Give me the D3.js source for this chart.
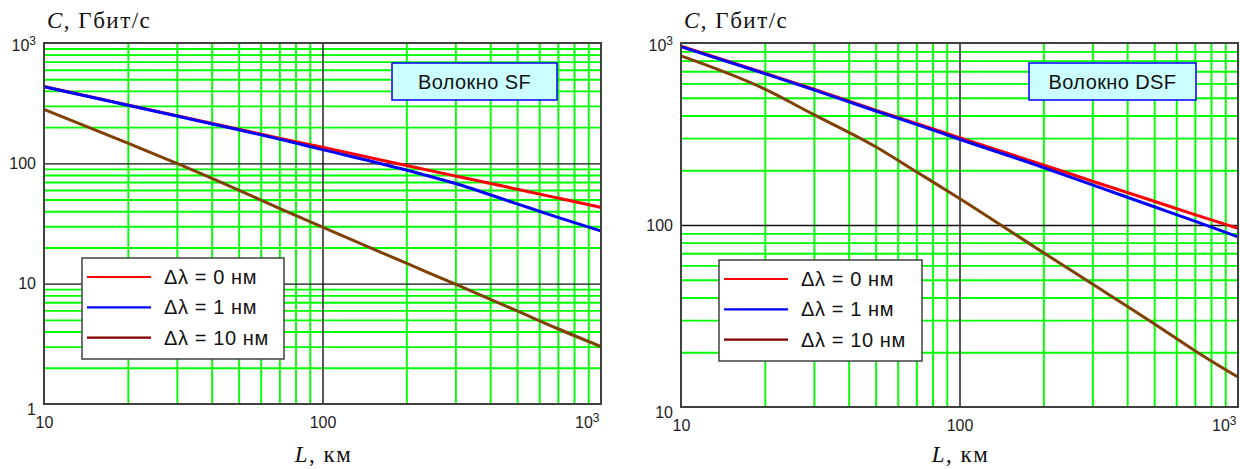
<!DOCTYPE html>
<html>
<head>
<meta charset="utf-8">
<script src="https://cdn.jsdelivr.net/npm/d3@7"></script>
<style>
  html, body { margin: 0; padding: 0; background: #fff; }
  svg { display: block; }
  .tick-label text { font-family: "Liberation Sans", Arial, sans-serif; font-size: 16px; fill: #222; }
</style>
</head>
<body>
<svg id="chart" width="1240" height="469"></svg>
<script>
// ---------------- data ----------------
const distances = [10, 20, 30, 50, 70, 100, 200, 300, 500, 700, 1000];   // L, км

// Fibre SF
const sfDl0  = [435, 306, 249, 192, 162, 136, 96, 78.5, 61, 51.5, 43];
const sfDl1  = [433, 304, 247, 190, 159, 130, 88, 68, 46, 35.6, 27.4];
const sfDl10 = [281, 147, 100, 60, 42.3, 29.5, 14.8, 9.9, 5.93, 4.22, 3.0];

// Fibre DSF
const dsfDl0  = [960, 683, 557, 428, 362, 302, 214, 174, 135, 114, 95.8];
const dsfDl1  = [955, 679, 553, 423, 357, 296, 207, 166, 126, 105, 86];
const dsfDl10 = [849, 558, 404, 269, 196, 140, 70.5, 47.4, 28.7, 20.4, 14.6];

const legendLabels = ["\u0394\u03bb = 0 нм", "\u0394\u03bb = 1 нм", "\u0394\u03bb = 10 нм"];
const fibreNames = ["Волокно SF", "Волокно DSF"];
const yTitle = ["C", ", Гбит/с"];
const xTitle = ["L", ", км"];

const xTickValues = [10, 100, 1000];
const xMinor = [20, 30, 40, 50, 60, 70, 80, 90, 200, 300, 400, 500, 600, 700, 800, 900];
const sfYTicks = [1, 10, 100, 1000];
const sfYMinor = [2, 3, 4, 5, 6, 7, 8, 9, 20, 30, 40, 50, 60, 70, 80, 90, 200, 300, 400, 500, 600, 700, 800, 900];
const dsfYTicks = [10, 100, 1000];
const dsfYMinor = [20, 30, 40, 50, 60, 70, 80, 90, 200, 300, 400, 500, 600, 700, 800, 900];

// ---------------- styles ----------------
const curveColors = ["#ff0000", "#0000ff", "#804000"];
const legendColors = ["#ff0000", "#0000ff", "#800000"];

const svg = d3.select("#chart");

function drawChart(cfg) {
  const g = svg.append("g");
  const x = d3.scaleLog().domain([10, 1000]).range([cfg.left, cfg.right]);
  const y = d3.scaleLog().domain(cfg.yDomain).range([cfg.bottom, cfg.top]);
  const w = cfg.right - cfg.left, h = cfg.bottom - cfg.top;

  // minor green grid
  const gx = g.append("g").attr("transform", `translate(0,${cfg.bottom})`)
    .call(d3.axisBottom(x).tickValues(xMinor).tickSize(-h).tickFormat(""));
  gx.select(".domain").remove();
  gx.selectAll("line").attr("stroke", "#00ff00").attr("stroke-width", 1.9);

  const gy = g.append("g").attr("transform", `translate(${cfg.left},0)`)
    .call(d3.axisLeft(y).tickValues(cfg.yMinor).tickSize(-w).tickFormat(""));
  gy.select(".domain").remove();
  gy.selectAll("line").attr("stroke", "#00ff00").attr("stroke-width", 1.9);

  // major black grid
  const gxM = g.append("g").attr("transform", `translate(0,${cfg.bottom})`)
    .call(d3.axisBottom(x).tickValues([100]).tickSize(-h).tickFormat(""));
  gxM.select(".domain").remove();
  gxM.selectAll("line").attr("stroke", "#111").attr("stroke-width", 1.4);

  const gyM = g.append("g").attr("transform", `translate(${cfg.left},0)`)
    .call(d3.axisLeft(y).tickValues(cfg.yMajor).tickSize(-w).tickFormat(""));
  gyM.select(".domain").remove();
  gyM.selectAll("line").attr("stroke", "#111").attr("stroke-width", 1.4);

  // curves
  const line = d3.line().x((d, i) => x(distances[i])).y(d => y(d)).curve(d3.curveMonotoneX);
  cfg.series.forEach((s, k) => {
    g.append("path").datum(s)
      .attr("d", line)
      .attr("fill", "none")
      .attr("stroke", curveColors[k])
      .attr("stroke-width", 3)
      .attr("stroke-linejoin", "round");
  });

  // frame
  g.append("rect")
    .attr("x", cfg.left).attr("y", cfg.top)
    .attr("width", w).attr("height", h)
    .attr("fill", "none").attr("stroke", "#404040").attr("stroke-width", 2);

  // tick labels
  const fmt = d => d === 1000 ? "" : String(d);
  const ax = g.append("g").attr("class", "tick-label")
    .attr("transform", `translate(0,${cfg.bottom})`)
    .call(d3.axisBottom(x).tickValues(xTickValues).tickSize(0).tickPadding(13).tickFormat(fmt));
  ax.select(".domain").remove();
  ax.selectAll(".tick").filter(d => d === 1000).select("text")
    .attr("text-anchor", "end").attr("x", -2)
    .call(t => {
      t.append("tspan").text("10");
      t.append("tspan").text("3").attr("dy", "-0.5em").attr("font-size", "12px");
    });

  const ay = g.append("g").attr("class", "tick-label")
    .attr("transform", `translate(${cfg.left},0)`)
    .call(d3.axisLeft(y).tickValues(cfg.yTicks).tickSize(0).tickPadding(8).tickFormat(fmt));
  ay.select(".domain").remove();
  ay.selectAll(".tick").filter(d => d === 1000).select("text")
    .attr("dy", "0.45em")
    .call(t => {
      t.append("tspan").text("10");
      t.append("tspan").text("3").attr("dy", "-0.5em").attr("font-size", "12px");
    });
  ay.selectAll(".tick").filter(d => d === cfg.yDomain[0]).select("text").attr("dy", "0.68em");

  // axis titles
  const yt = g.append("text")
    .attr("x", cfg.left + 3).attr("y", 28)
    .attr("font-family", "'Liberation Serif', 'Times New Roman', serif")
    .attr("font-size", 23).attr("letter-spacing", 1.5).attr("fill", "#111");
  yt.append("tspan").attr("font-style", "italic").text(yTitle[0]);
  yt.append("tspan").text(yTitle[1]);

  const xt = g.append("text")
    .attr("x", x(100) + 1).attr("y", 462).attr("text-anchor", "middle")
    .attr("font-family", "'Liberation Serif', 'Times New Roman', serif")
    .attr("font-size", 23).attr("letter-spacing", 1.5).attr("fill", "#111");
  xt.append("tspan").attr("font-style", "italic").text(xTitle[0]);
  xt.append("tspan").text(xTitle[1]);

  // fibre label box
  const b = cfg.box;
  g.append("rect").attr("x", b.x).attr("y", b.y).attr("width", b.w).attr("height", b.h)
    .attr("fill", "#ccffff").attr("stroke", "#0000ff").attr("stroke-width", 1.5);
  g.append("text").attr("x", b.x + b.w / 2).attr("y", b.y + b.h / 2 + 7)
    .attr("text-anchor", "middle")
    .attr("font-family", "'Liberation Sans', Arial, sans-serif")
    .attr("font-size", 20).attr("letter-spacing", 0.4).attr("fill", "#111")
    .text(cfg.name);

  // legend
  const L = cfg.legend;
  g.append("rect").attr("x", L.x).attr("y", L.y).attr("width", L.w).attr("height", L.h)
    .attr("fill", "#fff").attr("stroke", "#404040").attr("stroke-width", 1.5);
  legendLabels.forEach((lab, i) => {
    const yy = L.y + 19 + i * 30.3;
    g.append("line").attr("x1", L.x + 5).attr("x2", L.x + 69)
      .attr("y1", yy).attr("y2", yy)
      .attr("stroke", legendColors[i]).attr("stroke-width", 2.2);
    g.append("text").attr("x", L.x + 82).attr("y", yy + 7)
      .attr("font-family", "'Liberation Sans', Arial, sans-serif")
      .attr("font-size", 20).attr("letter-spacing", 0.6).attr("fill", "#111")
      .text(lab);
  });
}

drawChart({
  left: 44, right: 601, top: 43, bottom: 404,
  yDomain: [1, 1000], yTicks: sfYTicks, yMinor: sfYMinor, yMajor: [10, 100],
  series: [sfDl0, sfDl1, sfDl10], name: fibreNames[0],
  box: { x: 392, y: 63, w: 165, h: 37 },
  legend: { x: 82, y: 258, w: 202, h: 101 }
});

drawChart({
  left: 681, right: 1238, top: 43, bottom: 407,
  yDomain: [10, 1000], yTicks: dsfYTicks, yMinor: dsfYMinor, yMajor: [100],
  series: [dsfDl0, dsfDl1, dsfDl10], name: fibreNames[1],
  box: { x: 1029, y: 63, w: 167, h: 37 },
  legend: { x: 719, y: 260, w: 203, h: 101 }
});
</script>
</body>
</html>
